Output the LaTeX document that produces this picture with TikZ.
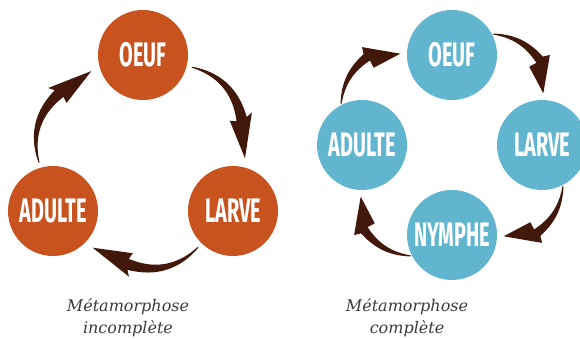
\documentclass[tikz,border=0pt]{standalone}
\usepackage{fontspec}
\newfontfamily\lblfont[FakeStretch=0.585]{Fira Sans}
\newfontfamily\capfont{DejaVu Serif}
\definecolor{orangec}{HTML}{C9531F}
\definecolor{bluec}{HTML}{62B5CE}
\definecolor{arrowc}{HTML}{42180A}
\definecolor{capc}{HTML}{3A3A3A}
\newcommand{\leftarrowshape}{%
  \fill[arr] plot[domain=0:1,samples=30] ({62-40*\x}:{104+2.4*\x+5*sin(180*\x)+0.5+5*\x})
    -- (23.2:118.5) -- (0.4:102) -- (23.8:94.8)
    -- plot[domain=0:1,samples=30] ({22+40*\x}:{104+2.4*(1-\x)+5*sin(180*\x)-0.5-5*(1-\x)})
    -- cycle;}
\newcommand{\rightarrowshape}{%
  \fill[arr] plot[domain=0:1,samples=30] ({69.6-25.4*\x}:{118.4+3.9*\x+3*sin(180*\x)+0.5+4*\x})
    -- (42.6:133) -- (29.5:104.9) -- (45.4:110)
    -- plot[domain=0:1,samples=30] ({44.2+25.4*\x}:{118.4+3.9*(1-\x)+3*sin(180*\x)-0.5-4*(1-\x)})
    -- cycle;}
\begin{document}
\begin{tikzpicture}[x=1pt,y=1pt]
\useasboundingbox (0,0) rectangle (580,339);
\tikzset{
  stage/.style={circle, minimum size=90pt, inner sep=0pt, text=white,
    font=\lblfont\bfseries\fontsize{34}{34}\selectfont},
  incstage/.style={stage, fill=orangec},
  cstage/.style={stage, fill=bluec},
  arr/.style={fill=arrowc},
  caption/.style={font=\capfont\itshape\fontsize{16}{22}\selectfont, text=capc, align=center, inner sep=0pt}
}
% left cycle
\coordinate (lc) at (143,180);
\node[incstage] (lo) at (143,284) {OEUF};
\node[incstage] (ll) at (233,128) {LARVE};
\node[incstage] (la) at (53,128) {ADULTE};
\begin{scope}[shift={(lc)}]
  \leftarrowshape
  \begin{scope}[rotate=-120]\leftarrowshape\end{scope}
  \begin{scope}[rotate=120]\leftarrowshape\end{scope}
\end{scope}
% right cycle
\coordinate (rc) at (452,194);
\node[cstage] (ro) at (452,284) {OEUF};
\node[cstage] (rl) at (542,194) {LARVE};
\node[cstage] (rn) at (452,104) {NYMPHE};
\node[cstage] (ra) at (362,194) {ADULTE};
\begin{scope}[shift={(rc)}]
  \rightarrowshape
  \begin{scope}[rotate=-90]\rightarrowshape\end{scope}
  \begin{scope}[rotate=-180]\rightarrowshape\end{scope}
  \begin{scope}[rotate=-270]\rightarrowshape\end{scope}
\end{scope}
% captions
\node[caption, anchor=base] (lcap) at (128,5) {Métamorphose\\incomplète};
\node[caption, anchor=base] (rcap) at (407,5) {Métamorphose\\complète};
\end{tikzpicture}
\end{document}
